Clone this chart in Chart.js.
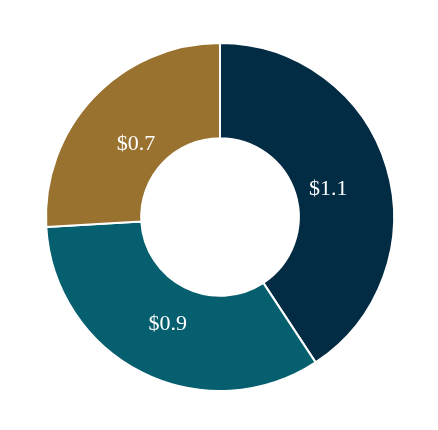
<!DOCTYPE html>
<html>
<head>
<meta charset="utf-8">
<style>
html,body{margin:0;padding:0;background:#fff;}
#wrap{width:438px;height:430px;}
</style>
<script src="https://cdn.jsdelivr.net/npm/chart.js@4"></script>
</head>
<body>
<div id="wrap"><canvas id="c" width="438" height="430"></canvas></div>
<script>
const categories = ["A", "B", "C"];
const values = [1.1, 0.9, 0.7];
const valueLabels = ["$1.1", "$0.9", "$0.7"];
const colors = ["#022b44", "#055f6e", "#9a7230"];

const labelPlugin = {
  id: 'sliceLabels',
  afterDatasetsDraw(chart) {
    const ctx = chart.ctx;
    const meta = chart.getDatasetMeta(0);
    ctx.save();
    ctx.fillStyle = '#ffffff';
    ctx.font = '22px "Liberation Serif", "Times New Roman", serif';
    ctx.textAlign = 'center';
    ctx.textBaseline = 'middle';
    meta.data.forEach((arc, i) => {
      const p = arc.getProps(['x','y','startAngle','endAngle','innerRadius','outerRadius'], true);
      const mid = (p.startAngle + p.endAngle) / 2;
      const r = p.innerRadius + (p.outerRadius - p.innerRadius) * 0.37;
      ctx.fillText(valueLabels[i], p.x + Math.cos(mid) * r - 1, p.y + Math.sin(mid) * r + 5);
    });
    ctx.restore();
  }
};

new Chart(document.getElementById('c'), {
  type: 'doughnut',
  data: {
    labels: categories,
    datasets: [{
      data: values,
      backgroundColor: colors,
      borderColor: '#ffffff',
      borderWidth: 2,
      hoverOffset: 0
    }]
  },
  options: {
    responsive: false,
    animation: false,
    cutout: '45.3%',
    layout: { padding: { top: 42, bottom: 38, left: 2, right: 0 } },
    plugins: { legend: { display: false }, tooltip: { enabled: false } }
  },
  plugins: [labelPlugin]
});
</script>
</body>
</html>
